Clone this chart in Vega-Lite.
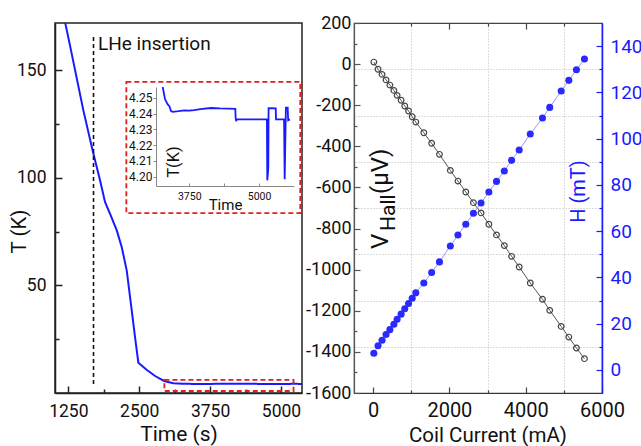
{
  "$schema": "https://vega.github.io/schema/vega-lite/v6.json",
  "padding": {"left": 8, "top": 13, "right": 0, "bottom": 0},
  "background": "white",
  "config": {
    "font": "Roboto",
    "view": {"stroke": null},
    "axis": {"labelFont": "Roboto", "titleFont": "Roboto", "titleFontWeight": "normal", "labelColor": "#111", "titleColor": "#111", "grid": false, "labelOverlap": false, "labelFlush": false, "labelBound": false}
  },
  "datasets": {
    "cool": [
      {"t": 1150, "T": 178},
      {"t": 1191, "T": 172.6},
      {"t": 1280, "T": 161.5},
      {"t": 1368, "T": 150.2},
      {"t": 1514, "T": 131.5},
      {"t": 1663, "T": 114.5},
      {"t": 1721, "T": 108.2},
      {"t": 1809, "T": 98.9},
      {"t": 1897, "T": 88.8},
      {"t": 1986, "T": 83.3},
      {"t": 2104, "T": 75.6},
      {"t": 2192, "T": 67.8},
      {"t": 2280, "T": 56.9},
      {"t": 2369, "T": 38.2},
      {"t": 2427, "T": 25.7},
      {"t": 2485, "T": 14.1},
      {"t": 2630, "T": 10.8},
      {"t": 2780, "T": 7.9},
      {"t": 2939, "T": 5.6},
      {"t": 3100, "T": 4.5},
      {"t": 3275, "T": 4.2568},
      {"t": 3317, "T": 4.249},
      {"t": 3365, "T": 4.2458},
      {"t": 3394, "T": 4.2447},
      {"t": 3424, "T": 4.2416},
      {"t": 3454, "T": 4.2411},
      {"t": 3560, "T": 4.2415},
      {"t": 3661, "T": 4.242},
      {"t": 3750, "T": 4.2418},
      {"t": 3839, "T": 4.2422},
      {"t": 3950, "T": 4.2428},
      {"t": 4136, "T": 4.2435},
      {"t": 4300, "T": 4.2432},
      {"t": 4450, "T": 4.2431},
      {"t": 4575, "T": 4.243},
      {"t": 4580, "T": 4.2373},
      {"t": 4590, "T": 4.2352},
      {"t": 4600, "T": 4.2363},
      {"t": 4800, "T": 4.2363},
      {"t": 5000, "T": 4.2363},
      {"t": 5140, "T": 4.2363},
      {"t": 5147, "T": 4.1977},
      {"t": 5165, "T": 4.2053},
      {"t": 5170, "T": 4.2434},
      {"t": 5298, "T": 4.2433},
      {"t": 5303, "T": 4.2363},
      {"t": 5447, "T": 4.2363},
      {"t": 5458, "T": 4.1984},
      {"t": 5480, "T": 4.2437},
      {"t": 5512, "T": 4.2437},
      {"t": 5520, "T": 4.2357},
      {"t": 5552, "T": 4.2363}
    ],
    "hall": [
      {"I": 20, "V": 10, "H": 7.2},
      {"I": 130, "V": -25, "H": 10.4},
      {"I": 235, "V": -50, "H": 12.8},
      {"I": 340, "V": -77, "H": 15.3},
      {"I": 440, "V": -102, "H": 17.4},
      {"I": 545, "V": -128, "H": 19.7},
      {"I": 630, "V": -152, "H": 21.9},
      {"I": 735, "V": -176, "H": 24.1},
      {"I": 830, "V": -204, "H": 26.4},
      {"I": 930, "V": -228, "H": 28.7},
      {"I": 1025, "V": -256, "H": 31.0},
      {"I": 1120, "V": -282, "H": 33.3},
      {"I": 1330, "V": -334, "H": 37.6},
      {"I": 1535, "V": -385, "H": 42.1},
      {"I": 1740, "V": -439, "H": 46.7},
      {"I": 2025, "V": -517, "H": 53.6},
      {"I": 2225, "V": -569, "H": 58.3},
      {"I": 2430, "V": -622, "H": 63.0},
      {"I": 2630, "V": -674, "H": 67.7},
      {"I": 2830, "V": -724, "H": 72.2},
      {"I": 3035, "V": -779, "H": 76.9},
      {"I": 3235, "V": -831, "H": 81.5},
      {"I": 3440, "V": -883, "H": 86.0},
      {"I": 3630, "V": -935, "H": 90.6},
      {"I": 3830, "V": -987, "H": 95.1},
      {"I": 4120, "V": -1065, "H": 102.0},
      {"I": 4440, "V": -1144, "H": 108.9},
      {"I": 4630, "V": -1198, "H": 113.5},
      {"I": 4930, "V": -1276, "H": 120.6},
      {"I": 5130, "V": -1328, "H": 125.2},
      {"I": 5330, "V": -1381, "H": 129.8},
      {"I": 5540, "V": -1433, "H": 134.4}
    ]
  },
  "spacing": 52,
  "bounds": "flush",
  "hconcat": [
    {
      "width": 247,
      "height": 370,
      "view": {"stroke": "#222", "strokeWidth": 1.5},
      "resolve": {"scale": {"x": "independent", "y": "independent"}, "axis": {"x": "independent", "y": "independent"}},
      "layer": [
        {
          "resolve": {"axis": {"x": "independent", "y": "independent"}},
          "layer": [
            {
              "data": {"name": "cool"},
              "mark": {"type": "line", "color": "#1a1aff", "strokeWidth": 2, "clip": true},
              "encoding": {
                "x": {"field": "t", "type": "quantitative",
                  "scale": {"domain": [1015, 5370], "nice": false, "zero": false},
                  "axis": {"orient": "bottom", "values": [1250, 2500, 3750, 5000], "format": "d",
                    "tickSize": -7, "labelPadding": 25, "labelBaseline": "middle", "labelFontSize": 17.5,
                    "domainColor": "#222", "domainWidth": 1.5, "tickColor": "#222", "tickWidth": 1.5,
                    "title": "Time (s)", "titleFontSize": 21, "titleX": 123.5, "titleY": 41, "titleBaseline": "middle", "titleAlign": "center"}},
                "y": {"field": "T", "type": "quantitative",
                  "scale": {"domain": [0, 172], "nice": false, "zero": false},
                  "axis": {"orient": "left", "values": [50, 100, 150], "format": "d",
                    "tickSize": -7, "labelPadding": 16, "labelFontSize": 17.5,
                    "domainColor": "#222", "domainWidth": 1.5, "tickColor": "#222", "tickWidth": 1.5,
                    "title": "T (K)", "titleFontSize": 20.5, "titleAngle": 270, "titleX": -35.5, "titleY": 208, "titleBaseline": "middle", "titleAlign": "center"}}
              }
            },
            {
              "data": {"values": [{}]},
              "mark": {"type": "rule", "color": "#111", "strokeWidth": 1.6, "strokeDash": [4, 3]},
              "encoding": {
                "x": {"datum": 1694, "axis": {"orient": "bottom", "values": [1875, 3125, 4375], "labels": false, "domain": false, "tickSize": -4, "tickColor": "#222", "tickWidth": 1.5, "title": null}},
                "y": {"datum": 4.2, "axis": {"orient": "left", "values": [25, 75, 125], "labels": false, "domain": false, "tickSize": -4, "tickColor": "#222", "tickWidth": 1.5, "title": null}},
                "y2": {"datum": 165.7}
              }
            },
            {
              "data": {"values": [{}]},
              "mark": {"type": "text", "align": "left", "baseline": "alphabetic", "fontSize": 19, "color": "#111"},
              "encoding": {"x": {"datum": 1774, "axis": null}, "y": {"datum": 159.5, "axis": null}, "text": {"value": "LHe insertion"}}
            },
            {
              "data": {"values": [{}]},
              "mark": {"type": "rect", "filled": false, "color": "#e32020", "strokeWidth": 1.8, "strokeDash": [5, 3]},
              "encoding": {"x": {"datum": 2273, "axis": null}, "x2": {"datum": 5339}, "y": {"datum": 83.6, "axis": null}, "y2": {"datum": 144.6}}
            },
            {
              "data": {"values": [{}]},
              "mark": {"type": "rect", "filled": false, "color": "#e32020", "strokeWidth": 1.8, "strokeDash": [5, 3]},
              "encoding": {"x": {"datum": 2944, "axis": null}, "x2": {"datum": 5221}, "y": {"datum": 0.93, "axis": null}, "y2": {"datum": 6.06}}
            }
          ]
        },
        {
          "data": {"name": "cool"},
          "transform": [{"filter": "datum.t >= 3270"}],
          "mark": {"type": "line", "color": "#1a1aff", "strokeWidth": 1.8},
          "encoding": {
            "x": {"field": "t", "type": "quantitative",
              "scale": {"domain": [3155, 5625], "range": [101, 239], "nice": false, "zero": false},
              "axis": {"orient": "bottom", "offset": -207, "values": [3750, 4375, 5000],
                "labelExpr": "datum.value % 1250 === 0 ? '' + datum.value : ''",
                "tickSize": -3, "labelPadding": 13, "labelBaseline": "middle", "labelFontSize": 10.5,
                "domainColor": "#888", "tickColor": "#888",
                "title": "Time", "titleFontSize": 15, "titleX": 170, "titleY": 18, "titleBaseline": "middle", "titleAlign": "center"}},
            "y": {"field": "T", "type": "quantitative",
              "scale": {"domain": [4.1941, 4.2568], "range": [163, 64], "nice": false, "zero": false},
              "axis": {"orient": "left", "offset": -101, "values": [4.2, 4.21, 4.22, 4.23, 4.24, 4.25], "format": ".2f",
                "tickSize": 3, "labelPadding": 1, "labelFontSize": 12,
                "domainColor": "#888", "tickColor": "#888",
                "title": "T(K)", "titleFontSize": 16.5, "titleAngle": 270, "titleX": 17, "titleY": 138.5, "titleBaseline": "middle", "titleAlign": "center"}}
          }
        }
      ]
    },
    {
      "width": 248,
      "height": 370,
      "view": {"stroke": "#444", "strokeWidth": 1.2},
      "resolve": {"scale": {"y": "independent"}},
      "layer": [
        {
          "data": {"name": "hall"},
          "resolve": {"axis": {"x": "independent", "y": "independent"}},
          "layer": [
            {
              "mark": {"type": "line", "color": "#555", "strokeWidth": 1},
              "encoding": {
                "x": {"field": "I", "type": "quantitative",
                  "scale": {"domain": [-500, 6000], "nice": false, "zero": false},
                  "axis": {"orient": "bottom", "values": [0, 2000, 4000, 6000], "format": "d",
                    "tickSize": -6, "labelPadding": 23, "labelBaseline": "middle", "labelFontSize": 20,
                    "domainColor": "#333", "domainWidth": 1.2, "tickColor": "#444", "tickWidth": 1.2,
                    "title": "Coil Current (mA)", "titleFontSize": 20.5, "titleX": 133.5, "titleY": 42, "titleBaseline": "middle", "titleAlign": "center"}},
                "y": {"field": "V", "type": "quantitative",
                  "scale": {"domain": [-1600, 200], "nice": false, "zero": false},
                  "axis": {"orient": "left", "values": [-1600, -1400, -1200, -1000, -800, -600, -400, -200, 0, 200],
                    "labelExpr": "'' + datum.value",
                    "tickSize": -6, "labelPadding": 9, "labelFontSize": 18,
                    "domainColor": "#555", "domainWidth": 1.2, "tickColor": "#555", "tickWidth": 1.2,
                    "title": null}}
              }
            },
            {
              "mark": {"type": "point", "shape": "circle", "filled": false, "color": "#444", "strokeWidth": 1.2, "size": 32, "opacity": 1},
              "encoding": {
                "x": {"field": "I", "type": "quantitative",
                  "axis": {"orient": "bottom", "values": [1000, 3000, 5000], "labels": false, "domain": false, "tickSize": -3, "tickColor": "#444", "tickWidth": 1.2,
                    "grid": true, "gridColor": "#bbb", "gridDash": [1, 2], "gridWidth": 1, "title": null}},
                "y": {"field": "V", "type": "quantitative",
                  "axis": {"orient": "left", "values": [-1500, -1300, -1100, -900, -700, -500, -300, -100, 100], "labels": false, "domain": false, "tickSize": -3, "tickColor": "#555", "tickWidth": 1.2, "title": null}}
              }
            },
            {
              "data": {"values": [{}]},
              "mark": {"type": "text", "angle": 270, "align": "left", "baseline": "alphabetic", "fontSize": 24, "color": "#111"},
              "encoding": {"x": {"datum": 391, "axis": null}, "y": {"datum": -899, "axis": null}, "text": {"value": "V"}}
            },
            {
              "data": {"values": [{}]},
              "mark": {"type": "text", "angle": 270, "align": "left", "baseline": "alphabetic", "fontSize": 21, "color": "#111"},
              "encoding": {"x": {"datum": 575, "axis": null}, "y": {"datum": -812, "axis": null}, "text": {"value": "Hall"}}
            },
            {
              "data": {"values": [{}]},
              "mark": {"type": "text", "angle": 270, "align": "left", "baseline": "alphabetic", "fontSize": 24, "color": "#111"},
              "encoding": {"x": {"datum": 391, "axis": null}, "y": {"datum": -632, "axis": null}, "text": {"value": "(μV)"}}
            }
          ]
        },
        {
          "data": {"name": "hall"},
          "resolve": {"axis": {"x": "independent", "y": "independent"}},
          "layer": [
            {
              "mark": {"type": "line", "color": "#9a9aff", "strokeWidth": 1},
              "encoding": {
                "x": {"field": "I", "type": "quantitative",
                  "axis": {"orient": "top", "values": [2000, 4000], "labels": false, "domain": false,
                    "tickSize": -6, "tickColor": "#444", "tickWidth": 1.2, "title": null}},
                "y": {"field": "H", "type": "quantitative",
                  "scale": {"domain": [-10, 150], "nice": false, "zero": false},
                  "axis": {"orient": "right", "values": [0, 20, 40, 60, 80, 100, 120, 140], "format": "d",
                    "tickSize": -6, "labelPadding": 14, "labelFontSize": 19, "labelColor": "#1a1aff",
                    "domainColor": "#1a1aff", "domainWidth": 1.5, "tickColor": "#1a1aff", "tickWidth": 1.2,
                    "title": "H (mT)", "titleColor": "#1a1aff", "titleFontSize": 20, "titleAngle": 270, "titleX": -24, "titleY": 168, "titleBaseline": "middle", "titleAlign": "center"}}
              }
            },
            {
              "mark": {"type": "point", "shape": "circle", "filled": true, "color": "#2a2aff", "size": 50, "opacity": 1},
              "encoding": {
                "x": {"field": "I", "type": "quantitative",
                  "axis": {"orient": "top", "values": [1000, 3000, 5000], "labels": false, "domain": false,
                    "tickSize": -3, "tickColor": "#444", "tickWidth": 1.2, "title": null}},
                "y": {"field": "H", "type": "quantitative",
                  "axis": {"orient": "right", "values": [10, 30, 50, 70, 90, 110, 130], "labels": false, "domain": false,
                    "tickSize": -3, "tickColor": "#1a1aff", "tickWidth": 1.2,
                    "grid": true, "gridColor": "#bbb", "gridDash": [1, 2], "gridWidth": 1, "title": null}}
              }
            }
          ]
        }
      ]
    }
  ]
}
